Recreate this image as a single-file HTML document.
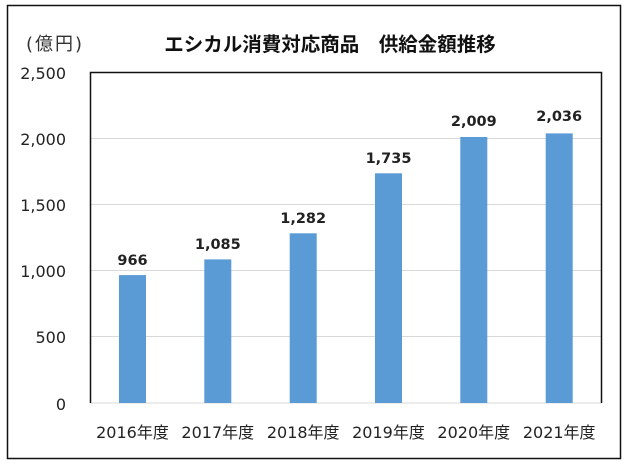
<!DOCTYPE html>
<html><head><meta charset="utf-8"><style>
body{margin:0;background:#fff;}
</style></head><body>
<svg width="630" height="470" xmlns="http://www.w3.org/2000/svg" font-family="'DejaVu Sans','Noto Sans CJK JP',sans-serif">
<rect x="0" y="0" width="630" height="470" fill="#fff"/>
<rect x="7.5" y="5.5" width="613" height="453" fill="none" stroke="#111" stroke-width="1.5"/>
<text x="26" y="50" font-size="18" fill="#333" letter-spacing="2">(億円)</text>
<text x="330" y="51" font-size="19.5" font-weight="bold" text-anchor="middle" fill="#111">エシカル消費対応商品　供給金額推移</text>
<g stroke="#d9d9d9" stroke-width="1">
<line x1="90" y1="138.5" x2="602" y2="138.5"/>
<line x1="90" y1="204.5" x2="602" y2="204.5"/>
<line x1="90" y1="270.5" x2="602" y2="270.5"/>
<line x1="90" y1="336.5" x2="602" y2="336.5"/>
<line x1="90" y1="403" x2="602" y2="403"/>
</g>
<path d="M90.5 403 V72.5 H601.5 V403" fill="none" stroke="#111" stroke-width="1.5"/>
<g font-size="16" fill="#222" text-anchor="end">
<text x="66" y="79">2,500</text>
<text x="66" y="145">2,000</text>
<text x="66" y="211">1,500</text>
<text x="66" y="277">1,000</text>
<text x="66" y="343">500</text>
<text x="66" y="410">0</text>
</g>
<g fill="#5b9bd5">
<rect x="119" y="275.1" width="27" height="127.9"/>
<rect x="204.3" y="259.4" width="27" height="143.6"/>
<rect x="289.7" y="233.3" width="27" height="169.7"/>
<rect x="375" y="173.3" width="27" height="229.7"/>
<rect x="460.3" y="137" width="27" height="266"/>
<rect x="545.7" y="133.4" width="27" height="269.6"/>
</g>
<g font-size="14.5" font-weight="bold" fill="#222" text-anchor="middle">
<text x="132.5" y="265">966</text>
<text x="217.8" y="249">1,085</text>
<text x="303.2" y="223">1,282</text>
<text x="388.5" y="163">1,735</text>
<text x="473.8" y="126">2,009</text>
<text x="559.2" y="121">2,036</text>
</g>
<g font-size="16" fill="#222" text-anchor="middle">
<text x="132.5" y="438">2016年度</text>
<text x="217.8" y="438">2017年度</text>
<text x="303.2" y="438">2018年度</text>
<text x="388.5" y="438">2019年度</text>
<text x="473.8" y="438">2020年度</text>
<text x="559.2" y="438">2021年度</text>
</g>
</svg>
</body></html>
